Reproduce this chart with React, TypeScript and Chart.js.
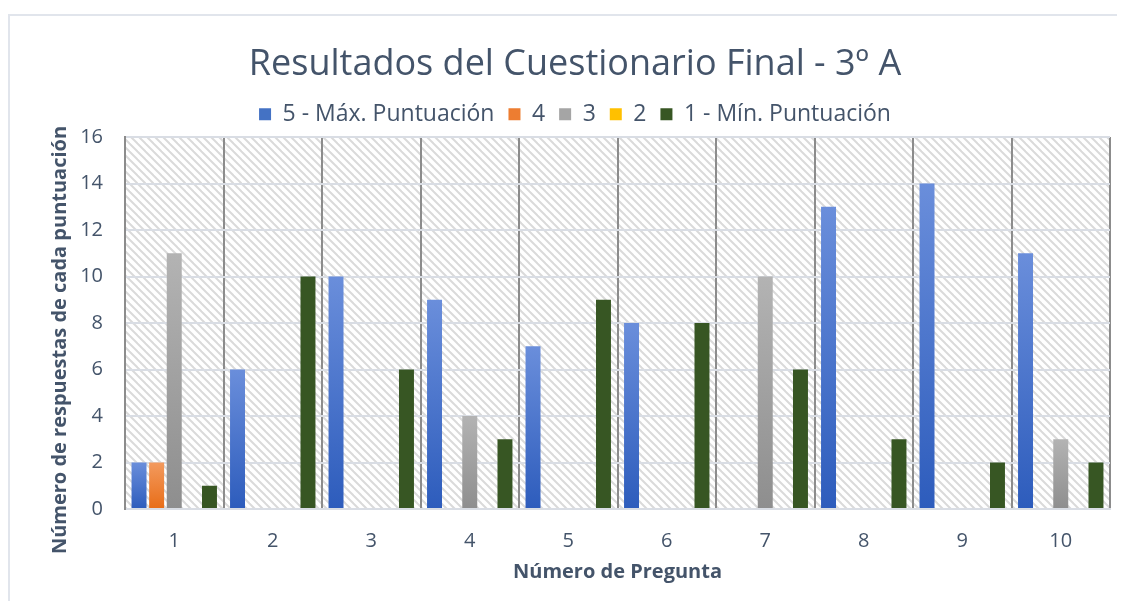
import React, { useEffect, useRef } from 'react';
import { Chart, registerables } from 'chart.js';

Chart.register(...registerables);

const categories = ['1', '2', '3', '4', '5', '6', '7', '8', '9', '10'];
const seriesLabels = ['5 - Máx. Puntuación', '4', '3', '2', '1 - Mín. Puntuación'];
const score5 = [2, 6, 10, 9, 7, 8, 0, 13, 14, 11];
const score4 = [2, 0, 0, 0, 0, 0, 0, 0, 0, 0];
const score3 = [11, 0, 0, 4, 0, 0, 10, 0, 0, 3];
const score2 = [0, 0, 0, 0, 0, 0, 0, 0, 0, 0];
const score1 = [1, 10, 6, 3, 9, 8, 6, 3, 2, 2];
const yMin = 0;
const yMax = 16;
const yStep = 2;
const chartTitle = 'Resultados del Cuestionario Final - 3º A';
const xTitle = 'Número de Pregunta';
const yTitle = 'Número de respuestas de cada puntuación';

const TEXT = '#44546A';
const FONT = '"Open Sans", Lato, sans-serif';

const seriesValues = [score5, score4, score3, score2, score1];
const seriesTop = ['#6a8edb', '#f39a5e', '#b3b3b3', '#ffd24d', '#375623'];
const seriesBottom = ['#2d5cbc', '#e86d17', '#8e8e8e', '#ffc000', '#375623'];
const seriesLegend = ['#4472c4', '#ed7d31', '#a5a5a5', '#ffc000', '#375623'];

function gradient(top: string, bottom: string) {
  return (ctx: any) => {
    const chart = ctx.chart;
    if (!chart.chartArea || ctx.type !== 'data') return bottom;
    const y = chart.scales.y;
    const y0 = y.getPixelForValue(0);
    const y1 = y.getPixelForValue(ctx.raw);
    if (!isFinite(y1) || Math.abs(y0 - y1) < 0.5) return bottom;
    const g = chart.ctx.createLinearGradient(0, y1, 0, y0);
    g.addColorStop(0, top);
    g.addColorStop(1, bottom);
    return g;
  };
}

function makePattern(): CanvasPattern | string {
  const c = document.createElement('canvas');
  c.width = 8;
  c.height = 8;
  const x = c.getContext('2d');
  if (!x) return '#fff';
  x.fillStyle = '#ffffff';
  x.fillRect(0, 0, 8, 8);
  x.strokeStyle = '#dadada';
  x.lineWidth = 2;
  for (const off of [-8, 0, 8]) {
    x.beginPath();
    x.moveTo(off - 1, -1);
    x.lineTo(off + 9, 9);
    x.stroke();
  }
  const p = x.createPattern(c, 'repeat');
  return p || '#fff';
}

const hatchPlugin = {
  id: 'hatch',
  beforeDraw(chart: any) {
    const { ctx, chartArea } = chart;
    if (!chartArea) return;
    ctx.save();
    ctx.fillStyle = makePattern();
    ctx.fillRect(chartArea.left, chartArea.top, chartArea.right - chartArea.left, chartArea.bottom - chartArea.top);
    ctx.restore();
  },
};

const yTitlePlugin = {
  id: 'yTitle',
  afterDraw(chart: any) {
    const { ctx } = chart;
    ctx.save();
    ctx.translate(50, 324);
    ctx.rotate(-Math.PI / 2);
    ctx.textAlign = 'center';
    ctx.textBaseline = 'middle';
    ctx.font = 'bold 20px ' + FONT;
    ctx.fillStyle = TEXT;
    ctx.fillText(yTitle, 0, 0);
    ctx.restore();
  },
};

export default function App() {
  const ref = useRef<HTMLCanvasElement | null>(null);

  useEffect(() => {
    if (!ref.current) return;
    const chart = new Chart(ref.current, {
      type: 'bar',
      data: {
        labels: categories,
        datasets: seriesLabels.map((label, i) => ({
          label,
          data: seriesValues[i],
          backgroundColor: gradient(seriesTop[i], seriesBottom[i]),
          borderWidth: 0,
          categoryPercentage: 0.894,
          barPercentage: 0.85,
        })),
      },
      options: {
        responsive: false,
        animation: false,
        devicePixelRatio: 1,
        layout: { padding: { left: 30, right: 7, top: 0, bottom: 0 } },
        plugins: {
          tooltip: { enabled: false },
          title: {
            display: true,
            text: chartTitle,
            color: TEXT,
            font: { family: FONT, size: 36, weight: 'normal' },
            padding: { top: 27.4, bottom: 2.2 },
          },
          subtitle: {
            display: true,
            text: ' ',
            weight: 500,
            font: { size: 1 },
            padding: { top: 0, bottom: 0 },
          },
          legend: {
            position: 'top',
            labels: {
              boxWidth: 12,
              boxHeight: 12,
              padding: 14,
              color: TEXT,
              font: { family: FONT, size: 23 },
              generateLabels: () =>
                seriesLabels.map((text, i) => ({
                  text,
                  fillStyle: seriesLegend[i],
                  strokeStyle: seriesLegend[i],
                  lineWidth: 0,
                  fontColor: TEXT,
                  hidden: false,
                  datasetIndex: i,
                })),
            },
          },
        },
        scales: {
          x: {
            offset: true,
            grid: { offset: true, color: '#8c8c8c', lineWidth: 2, drawTicks: false },
            border: { display: true, color: '#d9dde4', width: 2 },
            ticks: { color: TEXT, font: { family: FONT, size: 20 }, padding: 20 },
            title: {
              display: true,
              text: xTitle,
              color: TEXT,
              font: { family: FONT, size: 20, weight: 'bold' },
              padding: { top: 0, bottom: 17 },
            },
            afterFit: (s: any) => {
              s.height = 92;
            },
          },
          y: {
            min: yMin,
            max: yMax,
            ticks: { stepSize: yStep, color: TEXT, font: { family: FONT, size: 20 }, padding: 22 },
            grid: { color: '#d9dde4', lineWidth: 2, drawTicks: false },
            border: { display: true, color: '#8c8c8c', width: 2 },
            title: { display: false },
            afterFit: (s: any) => {
              s.width = 85;
            },
          },
        },
      },
      plugins: [hatchPlugin, yTitlePlugin],
    } as any);
    return () => chart.destroy();
  }, []);

  return (
    <div style={{ paddingTop: 6 }}>
      <div style={{ borderTop: '2px solid #e1e5ec', borderLeft: '2px solid #e1e5ec', height: 590 }}>
        <canvas ref={ref} width={1107} height={585} style={{ display: 'block' }} />
      </div>
    </div>
  );
}
